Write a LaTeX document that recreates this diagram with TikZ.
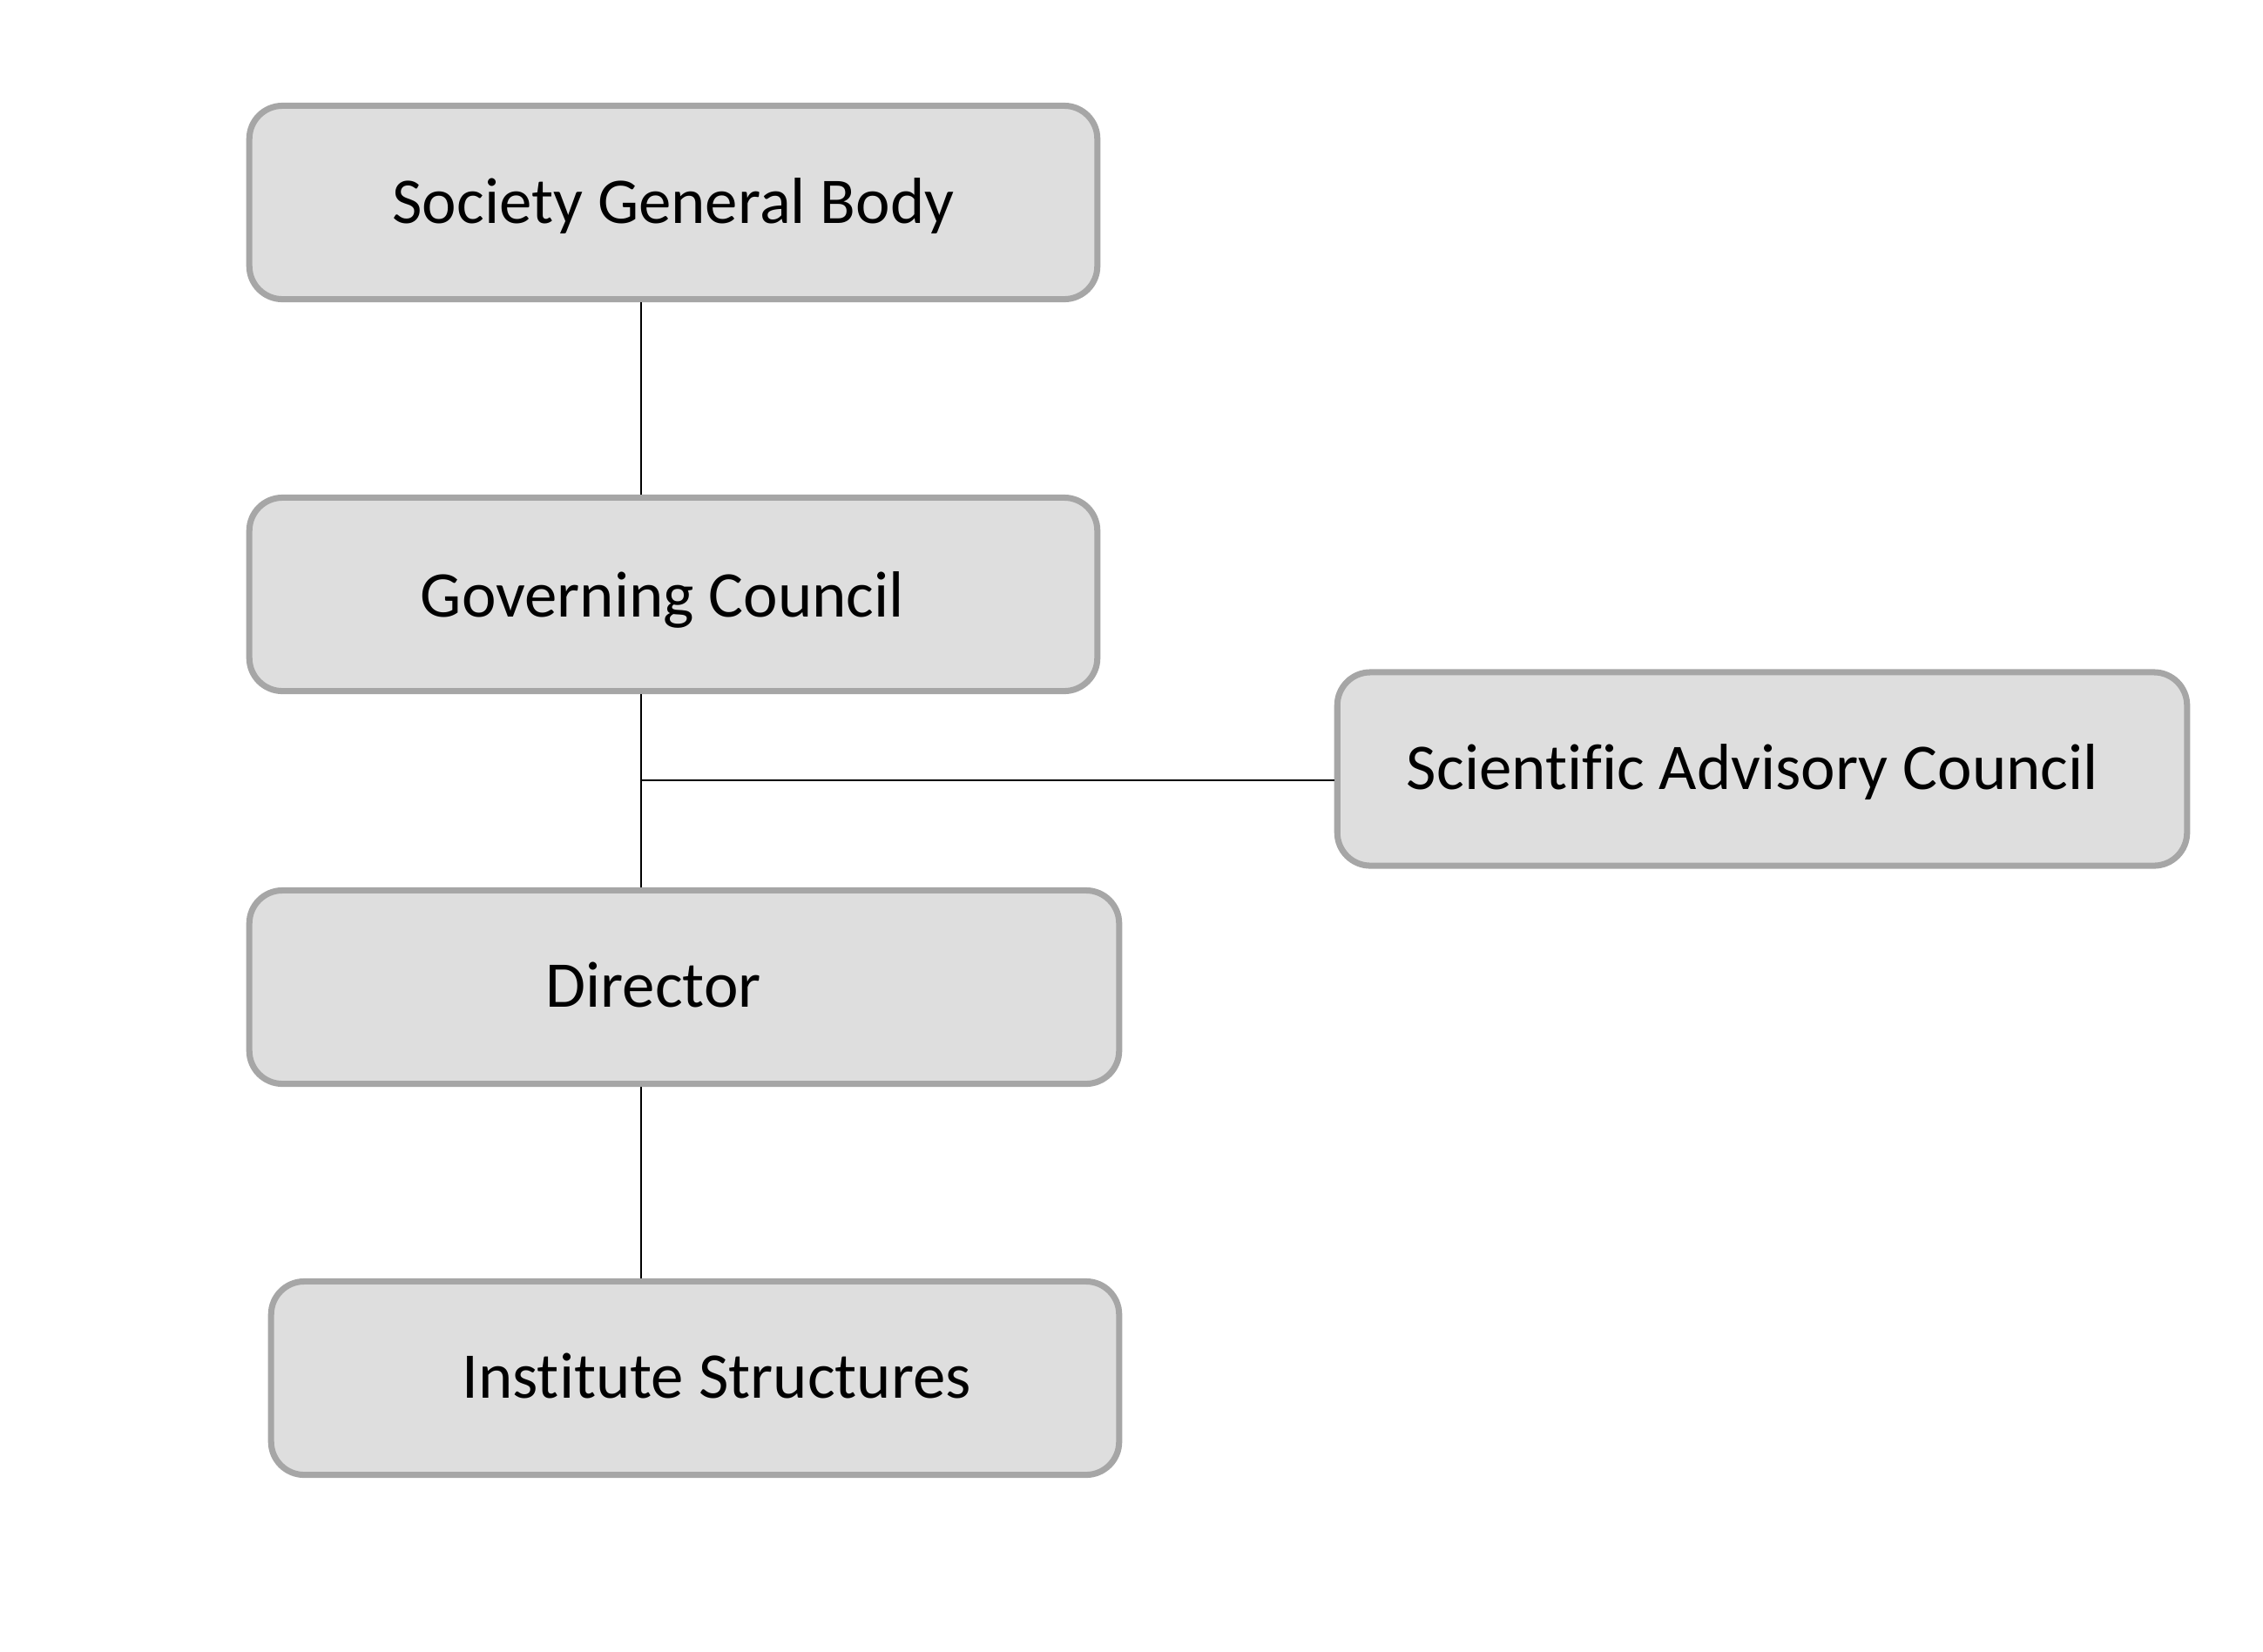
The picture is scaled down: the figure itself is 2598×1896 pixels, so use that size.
\documentclass[tikz,border=0pt]{standalone}
\usepackage{fontspec}
\setmainfont{Carlito}[Ligatures=NoCommon]
\definecolor{boxfill}{HTML}{DEDEDE}
\definecolor{boxline}{HTML}{A6A6A6}
\tikzset{
  orgbox/.style={draw=boxline, fill=boxfill, line width=2pt, rounded corners=0.38cm,
    inner sep=0pt, minimum height=2.22cm},
  orgtext/.style={inner sep=0pt, anchor=base, font=\fontsize{21.3}{25}\selectfont, text=black},
  link/.style={draw=black, line width=0.6pt}
}
\begin{document}
\begin{tikzpicture}[x=0.01cm, y=-0.01cm]
\useasboundingbox (0,0) rectangle (2598,1896);
\node[orgbox, minimum width=9.73cm] (sgb) at (773,232.5) {};
\node[orgbox, minimum width=9.73cm] (gc)  at (773,682.5) {};
\node[orgbox, minimum width=9.75cm] (sac) at (2023,883) {};
\node[orgbox, minimum width=9.98cm] (dir) at (785.5,1133.5) {};
\node[orgbox, minimum width=9.73cm] (ins) at (798,1582.5) {};
\node[orgtext] (sgbt) at (773,256) {Society General Body};
\node[orgtext] (gct)  at (760.5,708) {Governing Council};
\node[orgtext] (sact) at (2012,906) {Scientific Advisory Council};
\node[orgtext] (dirt) at (750,1156) {Director};
\node[orgtext] (inst) at (822.6,1605) {Institute Structures};
\coordinate (spine) at (736,0);
\coordinate (junc) at (736,896);
\draw[link] (sgb.south -| spine) -- (gc.north -| spine);
\draw[link] (gc.south -| spine) -- (dir.north -| spine);
\draw[link] (junc) -- (junc -| sac.west);
\draw[link] (dir.south -| spine) -- (ins.north -| spine);
\end{tikzpicture}
\end{document}
